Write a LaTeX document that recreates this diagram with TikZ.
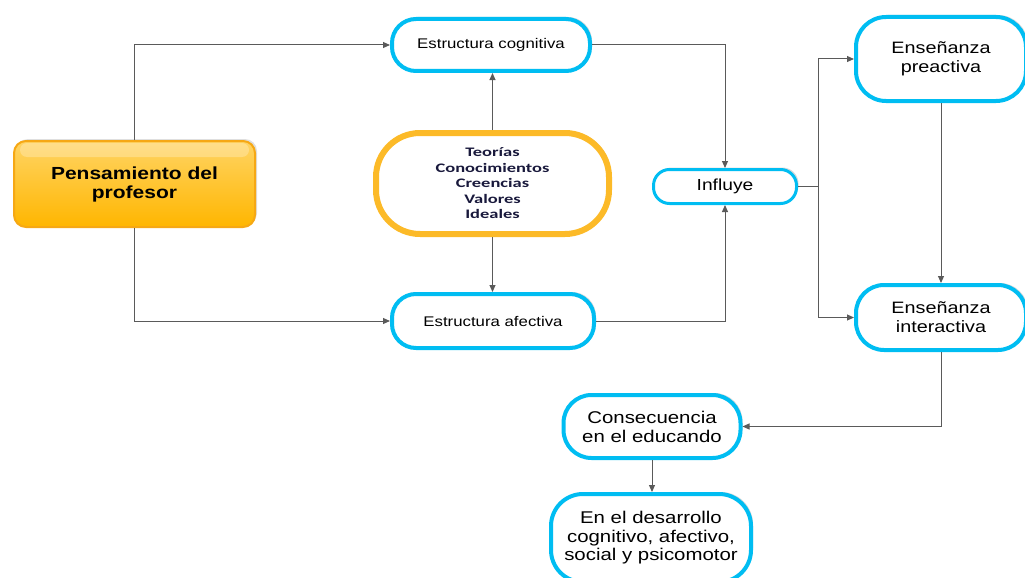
\documentclass[tikz,border=0pt]{standalone}
\usepackage{fontspec}
\setmainfont{Liberation Sans}[FakeStretch=1.2]
\newfontfamily\listfont{Carlito}[FakeStretch=1.42]
\usetikzlibrary{arrows.meta,shadows,calc}

\definecolor{boxcyan}{RGB}{0,189,242}
\definecolor{boxgold}{RGB}{252,186,40}
\definecolor{penborder}{RGB}{246,168,20}
\definecolor{pentop}{RGB}{255,212,100}
\definecolor{penbottom}{RGB}{255,182,0}
\definecolor{linegray}{RGB}{90,90,90}
\definecolor{listnavy}{RGB}{25,25,60}

\tikzset{
pill/.style={
    draw=boxcyan, line width=4pt, fill=white, align=center,
    rounded corners=24pt, inner sep=0pt,
    drop shadow={shadow xshift=2pt, shadow yshift=2pt, opacity=0.3}},
goldbox/.style={
    draw=boxgold, line width=6pt, fill=white, align=center,
    rounded corners=44pt, inner sep=0pt, text=listnavy,
    font=\listfont\bfseries\fontsize{13}{15.5}\selectfont,
    drop shadow={shadow xshift=2pt, shadow yshift=2pt, opacity=0.3}},
penbox/.style={
    draw=penborder, line width=2pt, top color=pentop, bottom color=penbottom,
    rounded corners=12pt, align=center, inner sep=0pt,
    drop shadow={shadow xshift=2pt, shadow yshift=2pt, opacity=0.25}},
pentext/.style={align=center, font=\bfseries\fontsize{17.5}{19}\selectfont},
link/.style={draw=linegray, line width=1pt, -{Triangle[length=7pt,width=6pt]}},
plainlink/.style={draw=linegray, line width=1pt}
}
\tikzset{every picture/.style={line width=0.75pt}}

\begin{document}
\begin{tikzpicture}[x=1pt,y=1pt,yscale=-1,xscale=1]

    \useasboundingbox (0,0) rectangle (1025,578);

    % boxes
    \node (pen) [penbox, minimum width=241pt, minimum height=86pt]
        at (134.5,184) {};
    \fill [white, opacity=0.25, rounded corners=7pt]
        ($(pen.north west)+(7,3)$) rectangle ($(pen.north east)+(-7,17)$);
    \node (pentxt) [pentext] at (pen.center) {Pensamiento del\\profesor};
    \node (cog) [pill, minimum width=198pt, minimum height=52pt,
        font=\fontsize{14}{17}\selectfont]
        at (491,45) {Estructura cognitiva};
    \node (teo) [goldbox, minimum width=233pt, minimum height=101pt]
        at (492.5,183.5) {Teorías\\Conocimientos\\Creencias\\Valores\\Ideales};
    \node (afe) [pill, minimum width=202pt, minimum height=54pt,
        font=\fontsize{14}{17}\selectfont]
        at (493,321) {Estructura afectiva};
    \node (inf) [pill, line width=3pt, rounded corners=16pt,
        minimum width=143pt, minimum height=34pt,
        font=\fontsize{16}{19}\selectfont]
        at (725,186.5) {Influye};
    \node (pre) [pill, rounded corners=30pt, minimum width=170pt, minimum height=84pt,
        font=\fontsize{16.5}{19}\selectfont]
        at (941,59) {Enseñanza\\preactiva};
    \node (int) [pill, rounded corners=28pt, minimum width=170pt, minimum height=65pt,
        font=\fontsize{16.5}{19}\selectfont]
        at (941,317.5) {Enseñanza\\interactiva};
    \node (con) [pill, rounded corners=28pt, minimum width=177pt, minimum height=63pt,
        font=\fontsize{17}{19}\selectfont]
        at (652,426.5) {Consecuencia\\en el educando};
    \node (des) [pill, rounded corners=32pt, minimum width=200pt, minimum height=88pt,
        font=\fontsize{17}{18.5}\selectfont]
        at (651,538) {En el desarrollo\\cognitivo, afectivo,\\social y psicomotor};

    % connectors
    \draw [link] (pen.north) |- (cog.west);
    \draw [link] (pen.south) |- (afe.west);
    \draw [link] (teo.north) -- (teo.north |- cog.south);
    \draw [link] (teo.south) -- (teo.south |- afe.north);
    \draw [link] (cog.east) -| (inf.north);
    \draw [link] (afe.east) -| (inf.south);

    \coordinate (split) at (818,186.5);
    \draw [plainlink] (inf.east) -- (split);
    \draw [link] (split) |- (pre.west);
    \draw [link] (split) |- (int.west);

    \draw [link] (pre.south) -- (int.north);
    \draw [link] (int.south) |- (con.east);
    \draw [link] (con.south) -- (con.south |- des.north);

\end{tikzpicture}
\end{document}
